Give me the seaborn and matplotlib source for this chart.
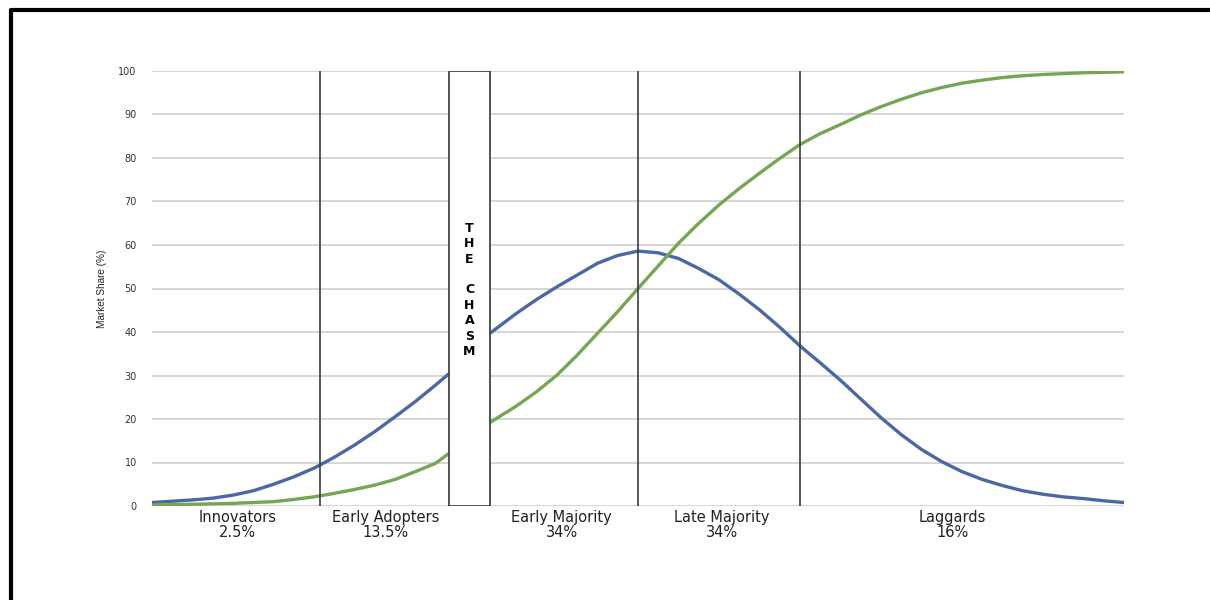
import numpy as np
import pandas as pd
import matplotlib
matplotlib.use("Agg")
import matplotlib.pyplot as plt
from matplotlib.patches import Rectangle
from matplotlib.lines import Line2D
import seaborn as sns

# Position along the adoption timeline, in standard deviations from the mean
position = [-3.0, -2.875, -2.75, -2.625, -2.5, -2.375, -2.25, -2.125, -2.0,
            -1.875, -1.75, -1.625, -1.5, -1.375, -1.25, -1.167,
            -0.914, -0.75, -0.625, -0.5, -0.375, -0.25, -0.125, 0.0,
            0.125, 0.25, 0.375, 0.5, 0.625, 0.75, 0.875, 1.0,
            1.125, 1.25, 1.375, 1.5, 1.625, 1.75, 1.875, 2.0,
            2.125, 2.25, 2.375, 2.5, 2.625, 2.75, 2.875, 3.0]

# Adoption rate (bell curve), in %
adoption = [0.8, 1.1, 1.4, 1.8, 2.5, 3.5, 5.0, 6.7, 8.7,
            11.2, 14.0, 17.1, 20.5, 24.0, 27.8, 30.4,
            39.7, 44.3, 47.5, 50.4, 53.1, 55.8, 57.6, 58.6,
            58.2, 56.9, 54.6, 52.0, 48.7, 45.1, 41.1, 36.8,
            32.9, 28.9, 24.6, 20.3, 16.4, 13.0, 10.2, 7.9,
            6.1, 4.7, 3.5, 2.7, 2.1, 1.7, 1.2, 0.8]

# Cumulative market share (S-curve), in %
market_share = [0.2, 0.3, 0.4, 0.5, 0.6, 0.8, 1.0, 1.5, 2.1,
                2.9, 3.8, 4.8, 6.1, 7.9, 9.8, 12.1,
                19.2, 23.0, 26.3, 30.1, 34.7, 39.7, 44.7, 50.0,
                55.2, 60.4, 65.0, 69.2, 73.0, 76.5, 79.9, 83.1,
                85.6, 87.7, 89.9, 91.8, 93.5, 95.0, 96.2, 97.2,
                97.9, 98.5, 98.9, 99.2, 99.4, 99.6, 99.7, 99.8]

# Adopter groups
groups = ["Innovators", "Early Adopters", "Early Majority", "Late Majority", "Laggards"]
group_shares = ["2.5%", "13.5%", "34%", "34%", "16%"]
group_bounds = [-1.963, 0.0, 1.0]
chasm_span = (-1.167, -0.914)
chasm_text = "THE CHASM"
y_ticks = list(range(0, 101, 10))

# Layout
group_label_x = [-2.47, -1.56, -0.47, 0.52, 1.94]
BLUE = "#4a68a3"
GREEN = "#76a653"

sns.set_theme(style="white")
plt.rcParams["font.family"] = ["DejaVu Sans"]

fig = plt.figure(figsize=(12.1, 6.0), dpi=100)
ax = fig.add_axes([152 / 1210, 94 / 600, 972 / 1210, 435 / 600])

df = pd.DataFrame({
    "position": position * 2,
    "value": adoption + market_share,
    "series": ["Adoption"] * len(position) + ["Market share"] * len(position),
})
sns.lineplot(data=df, x="position", y="value", hue="series",
             palette=[BLUE, GREEN], linewidth=2.4, legend=False, ax=ax, zorder=3)
for ln in ax.lines:
    ln.set_solid_joinstyle("round")
    ln.set_solid_capstyle("round")

ax.set_xlim(-3, 3)
ax.set_ylim(0, 100)
ax.set_yticks(y_ticks)
ax.set_xticks([])
ax.set_xlabel("")
ax.grid(axis="y", color="#cfcfcf", linewidth=1.2)
ax.set_axisbelow(True)
for sp in ax.spines.values():
    sp.set_visible(False)
ax.tick_params(axis="y", length=0, pad=11, labelsize=7, labelcolor="#333333")
ax.set_ylabel("Market Share (%)", fontsize=7.2, family="Liberation Sans", color="#222222")
ax.yaxis.set_label_coords(-0.046, 0.5)

# Group boundaries
ax.vlines(group_bounds, 0, 100, color="#3c3c3c", linewidth=1.2, zorder=4)

# The chasm
ax.add_patch(Rectangle((chasm_span[0], 0), chasm_span[1] - chasm_span[0], 100,
                       facecolor="white", edgecolor="#444444", linewidth=1.3, zorder=5))
cx = (chasm_span[0] + chasm_span[1]) / 2
for i, ch in enumerate(chasm_text):
    if ch.strip():
        ax.text(cx, 63.9 - i * 3.56, ch, ha="center", va="center", fontsize=9,
                fontweight="bold", color="black", zorder=6)

# Group labels below the axis
for gx, name, share in zip(group_label_x, groups, group_shares):
    ax.text(gx, -1.0, f"{name}\n{share}", ha="center", va="top", fontsize=10.5,
            color="#222222", linespacing=1.0, clip_on=False)

# Outer frame
fig.add_artist(Line2D([11.2 / 1210, 11.2 / 1210, 1.0], [0.0, 1 - 10 / 600, 1 - 10 / 600],
                      transform=fig.transFigure, color="black", linewidth=3.0))

fig.savefig("out.png", dpi=100, facecolor="white")
